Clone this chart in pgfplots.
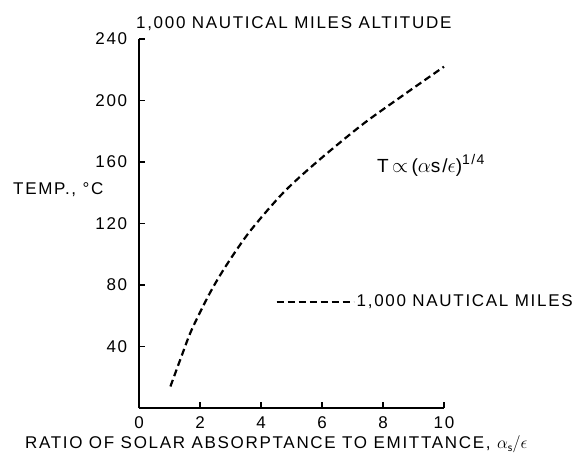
\documentclass[border=0pt]{standalone}
\usepackage{fontspec}
\setmainfont{Liberation Sans}[LetterSpace=10]
\usepackage{pgfplots}
\usepackage{pgfplotstable}
\pgfplotsset{compat=1.18}

% temperature vs. ratio of solar absorptance to emittance
\pgfplotstableread{
x    T
1.03 14
1.4  34
1.73 51
2.33 75
2.87 93
3.64 115
4.73 140
5.83 160
7.3  184
8.56 202
10.0 222
}\tempcurve

\newcommand{\lbl}{\fontsize{17bp}{20bp}\selectfont}

\begin{document}
\lbl
\begin{tikzpicture}
\path[use as bounding box] (0,0) rectangle (582bp,456bp);
\begin{axis}[
  at={(139bp,48bp)}, anchor=south west,
  scale only axis, width=305bp, height=369bp,
  xmin=0, xmax=10, ymin=0, ymax=240,
  axis x line=bottom, axis y line=left,
  axis line style={-, line width=2bp},
  xtick={0,2,...,10}, ytick={40,80,...,240},
  tick align=inside, major tick length=6bp,
  tick style={line width=1.2bp, black},
  /pgf/number format/assume math mode=true,
  ticklabel style={font=\lbl},
  yticklabel style={xshift=-6bp},
  xticklabel style={yshift=-3bp},
  clip=false,
  legend style={at={(axis cs:4.47,69)}, anchor=west, draw=none, fill=none,
    inner sep=0pt, font=\lbl},
  legend image code/.code={\draw[#1] (0bp,0bp) -- (77bp,0bp);},
]
\addplot[black, line width=2.2bp, dash pattern=on 7bp off 4bp, smooth]
  table[x=x, y=T] {\tempcurve};
\addlegendentry{1,000 NAUTICAL MILES}

\node[anchor=base west, inner sep=0pt] at (axis cs:-0.1,247) {1,000 NAUTICAL MILES ALTITUDE};
\node[anchor=west, inner sep=0pt] at (axis cs:-4.13,142) {TEMP., °C};
\node[anchor=west, inner sep=0pt, font=\fontsize{19bp}{22bp}\selectfont] at (axis cs:7.8,158)
  {T$\,\propto\,$($\alpha$s/$\epsilon$)\raisebox{8bp}{\fontsize{14bp}{16bp}\selectfont 1/4}};
\node[anchor=base, inner sep=0pt] at (axis cs:4.5,-26.5)
  {RATIO OF SOLAR ABSORPTANCE TO EMITTANCE, $\alpha_{\mathsf{s}}/\epsilon$};
\end{axis}
\end{tikzpicture}
\end{document}
